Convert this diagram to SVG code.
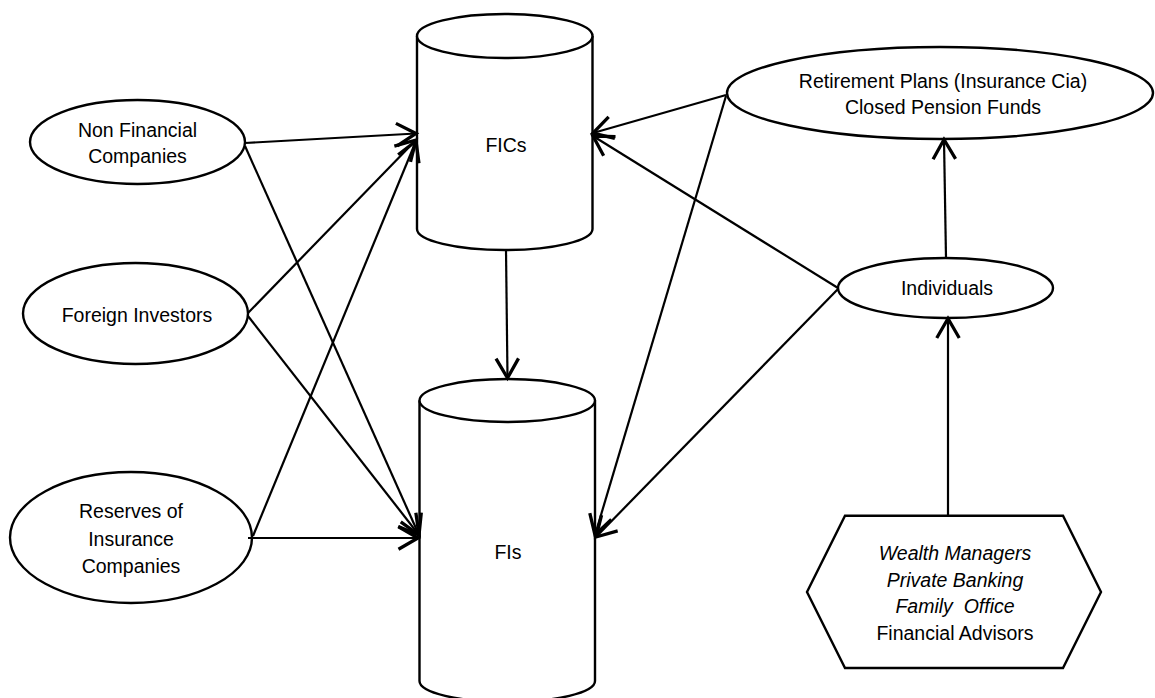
<svg xmlns="http://www.w3.org/2000/svg" width="1155" height="698" viewBox="0 0 1155 698">
<style>
.shape{fill:#fff;stroke:#000;stroke-width:2.4}
.edge{fill:none;stroke:#000;stroke-width:2.2}
.t{font-family:"Liberation Sans",Arial,sans-serif;font-size:19.5px;fill:#000;text-anchor:middle}
.i{font-style:italic}
.pre{white-space:pre}
</style>
<defs>
<marker id="arr" markerUnits="userSpaceOnUse" markerWidth="30" markerHeight="30" viewBox="-16 -10 20 20" refX="0" refY="0" orient="auto">
<path d="M-13,-7.5 L0,0 L-13,7.5" fill="none" stroke="#000" stroke-width="2.2"/>
</marker>
</defs>
<rect width="1155" height="698" fill="#fff"/>
<g id="fics">
<path class="shape" d="M417,36 L417,229 A87.75,21 0 0 0 592.5,229 L592.5,36"/>
<ellipse class="shape" cx="504.75" cy="36" rx="87.75" ry="22"/>
<text class="t" x="506" y="152">FICs</text>
</g>
<g id="fis">
<path class="shape" d="M419.5,400.5 L419.5,681 A87.75,21 0 0 0 595,681 L595,400.5"/>
<ellipse class="shape" cx="507.25" cy="400.5" rx="87.75" ry="21.5"/>
<text class="t" x="508" y="559">FIs</text>
</g>
<g id="nonfinancial">
<ellipse class="shape" cx="137.5" cy="142" rx="107.5" ry="42"/>
<text class="t" x="137.5" y="137">Non Financial</text>
<text class="t" x="137.5" y="163">Companies</text>
</g>
<g id="foreign">
<ellipse class="shape" cx="135.5" cy="313.5" rx="112.5" ry="50.5"/>
<text class="t" x="137" y="322">Foreign Investors</text>
</g>
<g id="reserves">
<ellipse class="shape" cx="131" cy="537.5" rx="121" ry="65.5"/>
<text class="t" x="131" y="518">Reserves of</text>
<text class="t" x="131" y="546">Insurance</text>
<text class="t" x="131" y="573">Companies</text>
</g>
<g id="retirement">
<ellipse class="shape" cx="940" cy="93" rx="213" ry="46"/>
<text class="t" x="943" y="88">Retirement Plans (Insurance Cia)</text>
<text class="t" x="943" y="114">Closed Pension Funds</text>
</g>
<g id="individuals">
<ellipse class="shape" cx="945.5" cy="288" rx="107.5" ry="30"/>
<text class="t" x="947" y="295">Individuals</text>
</g>
<g id="advisors">
<polygon class="shape" points="845,515.7 1063,515.7 1101,592 1063,668 845,668 807,592"/>
<text class="t i" x="955" y="560">Wealth Managers</text>
<text class="t i" x="955" y="587">Private Banking</text>
<text class="t i pre" x="955" y="613" xml:space="preserve">Family  Office</text>
<text class="t" x="955" y="640">Financial Advisors</text>
</g>
<g id="connectors">
<line class="edge" x1="245" y1="143" x2="416" y2="133.5" marker-end="url(#arr)"/>
<line class="edge" x1="245" y1="146" x2="419" y2="535" marker-end="url(#arr)"/>
<line class="edge" x1="248" y1="313" x2="416" y2="140" marker-end="url(#arr)"/>
<line class="edge" x1="248" y1="316" x2="419" y2="535" marker-end="url(#arr)"/>
<line class="edge" x1="253" y1="536" x2="416" y2="141" marker-end="url(#arr)"/>
<line class="edge" x1="248" y1="538" x2="418" y2="538" marker-end="url(#arr)"/>
<line class="edge" x1="726" y1="95" x2="593" y2="133" marker-end="url(#arr)"/>
<line class="edge" x1="838" y1="288" x2="593" y2="136" marker-end="url(#arr)"/>
<line class="edge" x1="726" y1="96" x2="595" y2="535" marker-end="url(#arr)"/>
<line class="edge" x1="838" y1="289" x2="596" y2="537" marker-end="url(#arr)"/>
<line class="edge" x1="946" y1="258" x2="944" y2="139.5" marker-end="url(#arr)"/>
<line class="edge" x1="948" y1="515" x2="948" y2="318.5" marker-end="url(#arr)"/>
<line class="edge" x1="506" y1="250" x2="507.5" y2="378" marker-end="url(#arr)"/>
</g>
</svg>
